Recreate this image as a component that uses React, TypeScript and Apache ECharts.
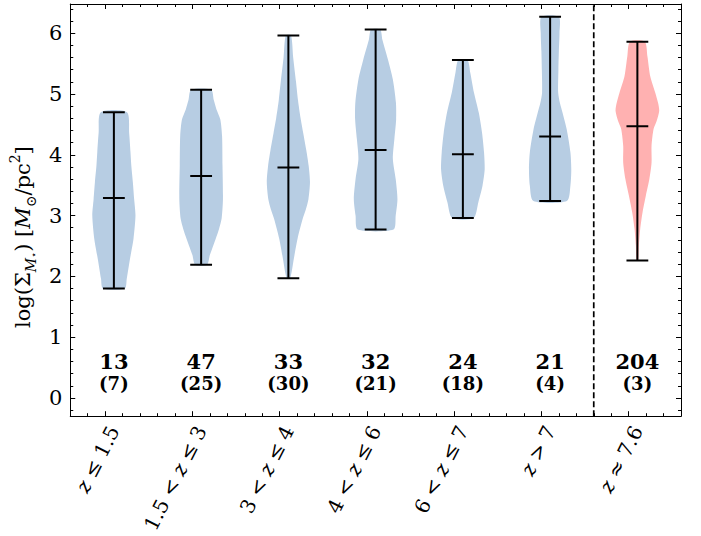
import React, { useEffect, useRef } from "react";
import * as echarts from "echarts";

// ---------- data ----------
const categories = ["z ≤ 1.5", "1.5 < z ≤ 3", "3 < z ≤ 4", "4 < z ≤ 6", "6 < z ≤ 7", "z > 7", "z ≈ 7.6"];
const mins = [1.8, 2.19, 1.97, 2.77, 2.96, 3.24, 2.26];
const maxs = [4.7, 5.07, 5.96, 6.06, 5.56, 6.27, 5.86];
const medians = [3.29, 3.65, 3.79, 4.08, 4.01, 4.3, 4.47];
const counts = ["13", "47", "33", "32", "24", "21", "204"];
const subCounts = ["(7)", "(25)", "(30)", "(21)", "(18)", "(4)", "(3)"];
const yTickValues = [0, 1, 2, 3, 4, 5, 6];

// violin outlines: [logΣ, relative half-width] (top -> bottom)
const profile1 = [[4.7, 0.6], [4.36, 0.7], [4.05, 0.76], [3.82, 0.8], [3.55, 0.87], [3.27, 0.93], [3.0, 0.99], [2.62, 0.9], [2.29, 0.74], [1.96, 0.59], [1.8, 0.5]];
const profile2 = [[5.07, 0.46], [4.9, 0.58], [4.75, 0.7], [4.58, 0.88], [4.31, 0.96], [3.82, 0.98], [3.27, 1.0], [2.95, 0.94], [2.78, 0.82], [2.62, 0.67], [2.47, 0.52], [2.35, 0.4], [2.19, 0.27]];
const profile3 = [[5.96, 0.12], [5.6, 0.22], [5.2, 0.35], [4.9, 0.44], [4.6, 0.56], [4.36, 0.68], [4.08, 0.82], [3.82, 0.93], [3.55, 0.99], [3.27, 0.92], [3.1, 0.8], [2.95, 0.66], [2.62, 0.42], [2.29, 0.25], [1.97, 0.08]];
const profile4 = [[6.06, 0.21], [5.89, 0.31], [5.56, 0.57], [5.24, 0.79], [4.86, 0.93], [4.58, 0.94], [4.26, 0.86], [3.93, 0.79], [3.6, 0.92], [3.27, 1.0], [3.0, 0.92], [2.77, 0.82]];
const profile5 = [[5.56, 0.21], [5.35, 0.34], [5.02, 0.51], [4.69, 0.73], [4.36, 0.88], [4.04, 0.97], [3.76, 1.0], [3.49, 0.9], [3.22, 0.71], [2.96, 0.49]];
const profile6 = [[6.27, 0.4], [6.0, 0.43], [5.7, 0.4], [5.4, 0.38], [5.02, 0.37], [4.85, 0.45], [4.69, 0.57], [4.42, 0.76], [4.04, 0.93], [3.76, 0.97], [3.49, 0.93], [3.24, 0.77]];
const profile7 = [[5.86, 0.34], [5.62, 0.46], [5.29, 0.59], [5.02, 0.82], [4.85, 0.95], [4.72, 1.0], [4.55, 0.88], [4.42, 0.74], [4.15, 0.65], [3.87, 0.65], [3.6, 0.55], [3.33, 0.39], [3.06, 0.24], [2.78, 0.13], [2.51, 0.07], [2.26, 0.04]];
const profiles = [profile1, profile2, profile3, profile4, profile5, profile6, profile7];
const separatorX = 6;

// ---------- style ----------
const SERIF = "DejaVu Serif";
const BLUE = "#b7cde3";
const PINK = "#ffb1b1";
const HALF_WIDTH = 0.25;
const CAP = 0.125;

const n = categories.length;
const majorX = categories.map((_, i) => i + 0.4);
const labelX = categories.map((_, i) => i + 0.5);
const minorX: number[] = [];
for (let k = 1; k < n * 5; k++) {
  const v = Math.round(k * 0.2 * 100) / 100;
  if (!majorX.some((m) => Math.abs(m - v) < 1e-6)) minorX.push(v);
}
const minorY: number[] = [];
for (let k = -1; k <= 32; k++) {
  if (k % 5 === 0) continue;
  minorY.push(Math.round(k * 0.2 * 100) / 100);
}

const Y_MIN = -0.3;
const Y_MAX = 6.48;

function xAxisDef(position: "bottom" | "top", major: boolean) {
  return {
    type: "value",
    min: 0,
    max: n,
    position,
    axisLine: { show: major, onZero: false, lineStyle: { color: "#000", width: 1 } },
    axisTick: {
      show: true,
      inside: true,
      length: major ? 5 : 3,
      customValues: major ? majorX : minorX,
      lineStyle: { color: "#000", width: 1 },
    },
    axisLabel: { show: false },
    splitLine: { show: false },
  };
}
function yAxisDef(position: "left" | "right", major: boolean) {
  return {
    type: "value",
    min: Y_MIN,
    max: Y_MAX,
    position,
    axisLine: { show: major, onZero: false, lineStyle: { color: "#000", width: 1 } },
    axisTick: {
      show: true,
      inside: true,
      length: major ? 5 : 3,
      customValues: major ? yTickValues : minorY,
      lineStyle: { color: "#000", width: 1 },
    },
    axisLabel: { show: false },
    splitLine: { show: false },
  };
}

const bottomMajor: any = xAxisDef("bottom", true);
bottomMajor.axisLabel = {
  show: true,
  customValues: labelX,
  rotate: 63,
  margin: 11,
  color: "#000",
  fontFamily: SERIF,
  fontSize: 20,
  formatter: (v: number) => {
    const idx = Math.min(n - 1, Math.max(0, Math.floor(v)));
    return categories[idx]
      .split("z")
      .map((s) => (s ? `{n|${s}}` : ""))
      .join("{it|z}");
  },
  rich: {
    n: { fontFamily: SERIF, fontSize: 20, color: "#000" },
    it: { fontFamily: SERIF, fontSize: 20, fontStyle: "italic", color: "#000" },
  },
};

const leftMajor: any = yAxisDef("left", true);
leftMajor.axisLabel = {
  show: true,
  customValues: yTickValues,
  margin: 8,
  color: "#000",
  fontFamily: SERIF,
  fontSize: 21,
};
leftMajor.name = "{n|log(Σ}{subIt|M}{star|⋆}{n|) [}{it|M}{sub|⊙}{n|/pc}{sup|2}{n|]}";
leftMajor.nameLocation = "middle";
leftMajor.nameRotate = 90;
leftMajor.nameGap = 31;
leftMajor.nameTextStyle = {
  color: "#000",
  fontFamily: SERIF,
  fontSize: 21,
  padding: [0, 54, 0, 0],
  rich: {
    n: { fontFamily: SERIF, fontSize: 21, color: "#000", lineHeight: 30 },
    it: { fontFamily: SERIF, fontSize: 21, fontStyle: "italic", color: "#000", lineHeight: 30 },
    subIt: { fontFamily: SERIF, fontSize: 14, fontStyle: "italic", color: "#000", lineHeight: 18, verticalAlign: "bottom" },
    star: { fontFamily: SERIF, fontSize: 10, color: "#000", lineHeight: 12, verticalAlign: "bottom" },
    sub: { fontFamily: SERIF, fontSize: 14, color: "#000", lineHeight: 18, verticalAlign: "bottom" },
    sup: { fontFamily: SERIF, fontSize: 14, color: "#000", lineHeight: 19, verticalAlign: "top" },
  },
};

const option: any = {
  animation: false,
  backgroundColor: "#fff",
  grid: { left: 70, top: 4, width: 611, height: 414, containLabel: false },
  xAxis: [bottomMajor, xAxisDef("bottom", false), xAxisDef("top", true), xAxisDef("top", false)],
  yAxis: [leftMajor, yAxisDef("left", false), yAxisDef("right", true), yAxisDef("right", false)],
  series: [
    {
      type: "custom",
      xAxisIndex: 0,
      yAxisIndex: 0,
      clip: true,
      data: categories.map((_, i) => [i + 0.5, medians[i]]),
      encode: { x: 0, y: 1 },
      renderItem: (params: any, api: any) => {
        const i = params.dataIndex;
        const cx = i + 0.5;
        const prof = profiles[i];
        const right = prof.map(([y, w]) => api.coord([cx + w * HALF_WIDTH, y]));
        const left = prof
          .slice()
          .reverse()
          .map(([y, w]) => api.coord([cx - w * HALF_WIDTH, y]));
        const pts = right.concat(left);
        const line = (x1: number, y1: number, x2: number, y2: number) => {
          const a = api.coord([x1, y1]);
          const b = api.coord([x2, y2]);
          return {
            type: "line",
            shape: { x1: a[0], y1: a[1], x2: b[0], y2: b[1] },
            style: { stroke: "#000", lineWidth: 2 },
          };
        };
        return {
          type: "group",
          children: [
            {
              type: "polygon",
              shape: { points: pts, smooth: 0.25 },
              style: { fill: i === n - 1 ? PINK : BLUE, stroke: "none" },
            },
            line(cx, mins[i], cx, maxs[i]),
            line(cx - CAP, mins[i], cx + CAP, mins[i]),
            line(cx - CAP, maxs[i], cx + CAP, maxs[i]),
            line(cx - CAP, medians[i], cx + CAP, medians[i]),
          ],
        };
      },
      z: 2,
    },
    {
      type: "custom",
      xAxisIndex: 0,
      yAxisIndex: 0,
      data: categories.map((_, i) => [i + 0.5, 0]),
      encode: { x: 0, y: 1 },
      renderItem: (params: any, api: any) => {
        const i = params.dataIndex;
        const a = api.coord([i + 0.5, 0.6]);
        const b = api.coord([i + 0.5, 0.23]);
        return {
          type: "group",
          children: [
            {
              type: "text",
              x: a[0],
              y: a[1],
              style: {
                text: counts[i],
                fill: "#000",
                font: `bold 21px "${SERIF}"`,
                align: "center",
                verticalAlign: "middle",
              },
            },
            {
              type: "text",
              x: b[0],
              y: b[1],
              style: {
                text: subCounts[i],
                fill: "#000",
                font: `bold 18px "${SERIF}"`,
                align: "center",
                verticalAlign: "middle",
              },
            },
          ],
        };
      },
      z: 3,
    },
    {
      type: "line",
      xAxisIndex: 0,
      yAxisIndex: 0,
      data: [
        [separatorX, Y_MIN],
        [separatorX, Y_MAX],
      ],
      symbol: "none",
      lineStyle: { color: "#000", width: 1.7, type: [6, 3] },
      silent: true,
      z: 4,
    },
  ],
};

export default function App() {
  const ref = useRef<HTMLDivElement>(null);
  useEffect(() => {
    const chart = echarts.init(ref.current as HTMLDivElement, null, { renderer: "svg" });
    chart.setOption(option);
    return () => chart.dispose();
  }, []);
  return (
    <div
      ref={ref}
      style={{ position: "absolute", left: 0, top: 0, width: 701, height: 536, background: "#fff" }}
    />
  );
}
